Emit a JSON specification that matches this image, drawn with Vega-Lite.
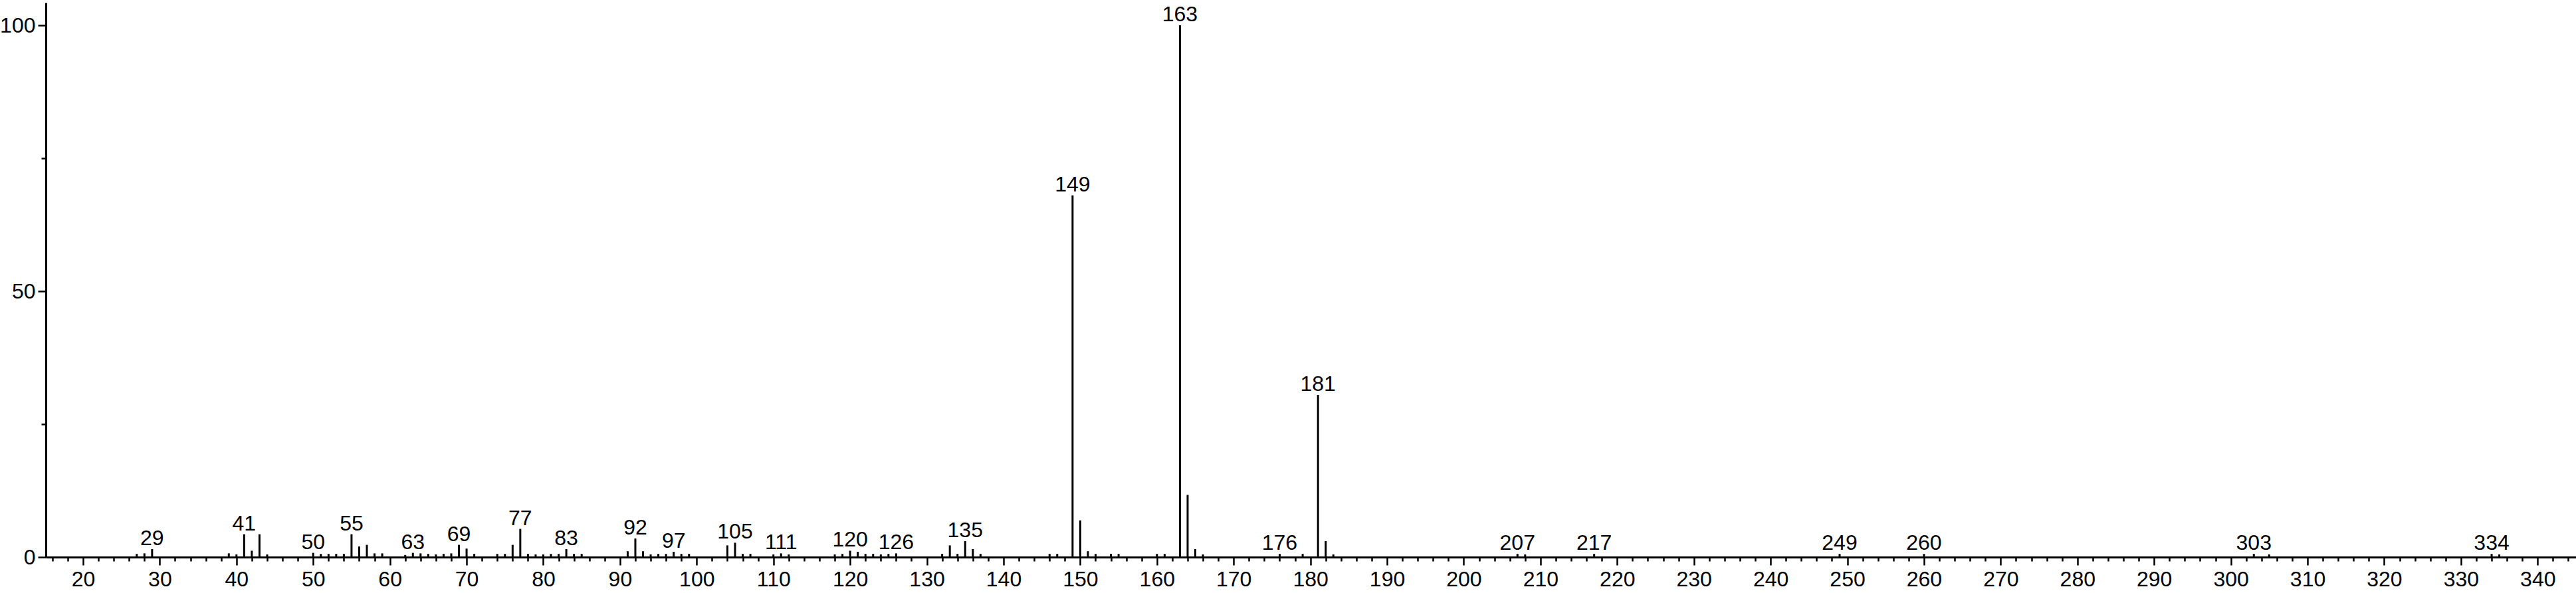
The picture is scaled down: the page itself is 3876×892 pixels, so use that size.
{
  "$schema": "https://vega.github.io/schema/vega-lite/v6.json",
  "autosize": "none",
  "width": 3807,
  "height": 834,
  "padding": {"left": 69, "top": 4, "right": 0, "bottom": 54},
  "background": "white",
  "config": {
    "view": {"stroke": null},
    "axis": {"grid": false, "domainColor": "black", "tickColor": "black", "labelColor": "black", "labelFont": "Liberation Sans", "labelFontSize": 32, "domainWidth": 3, "tickWidth": 2.5, "title": null, "labelFlush": false, "labelOverlap": false}
  },
  "data": {"values": [
    {"mz": 27, "i": 0.6, "lab": 0}, {"mz": 28, "i": 0.7, "lab": 0}, {"mz": 29, "i": 1.5, "lab": 1},
    {"mz": 39, "i": 0.7, "lab": 0}, {"mz": 40, "i": 0.5, "lab": 0}, {"mz": 41, "i": 4.3, "lab": 1},
    {"mz": 42, "i": 1.2, "lab": 0}, {"mz": 43, "i": 4.3, "lab": 0}, {"mz": 44, "i": 0.5, "lab": 0},
    {"mz": 50, "i": 0.8, "lab": 1}, {"mz": 51, "i": 0.6, "lab": 0}, {"mz": 52, "i": 0.6, "lab": 0},
    {"mz": 53, "i": 0.6, "lab": 0}, {"mz": 54, "i": 0.6, "lab": 0}, {"mz": 55, "i": 4.3, "lab": 1},
    {"mz": 56, "i": 2.0, "lab": 0}, {"mz": 57, "i": 2.3, "lab": 0}, {"mz": 58, "i": 0.7, "lab": 0},
    {"mz": 59, "i": 0.7, "lab": 0}, {"mz": 62, "i": 0.4, "lab": 0}, {"mz": 63, "i": 0.8, "lab": 1},
    {"mz": 64, "i": 0.7, "lab": 0}, {"mz": 65, "i": 0.6, "lab": 0}, {"mz": 66, "i": 0.5, "lab": 0},
    {"mz": 67, "i": 0.6, "lab": 0}, {"mz": 68, "i": 0.7, "lab": 0}, {"mz": 69, "i": 2.3, "lab": 1},
    {"mz": 70, "i": 1.6, "lab": 0}, {"mz": 71, "i": 0.6, "lab": 0}, {"mz": 74, "i": 0.6, "lab": 0},
    {"mz": 75, "i": 0.6, "lab": 0}, {"mz": 76, "i": 2.3, "lab": 0}, {"mz": 77, "i": 5.3, "lab": 1},
    {"mz": 78, "i": 0.6, "lab": 0}, {"mz": 79, "i": 0.5, "lab": 0}, {"mz": 80, "i": 0.5, "lab": 0},
    {"mz": 81, "i": 0.6, "lab": 0}, {"mz": 82, "i": 0.6, "lab": 0}, {"mz": 83, "i": 1.5, "lab": 1},
    {"mz": 84, "i": 0.6, "lab": 0}, {"mz": 85, "i": 0.6, "lab": 0}, {"mz": 91, "i": 1.1, "lab": 0},
    {"mz": 92, "i": 3.5, "lab": 1}, {"mz": 93, "i": 1.1, "lab": 0}, {"mz": 94, "i": 0.5, "lab": 0},
    {"mz": 95, "i": 0.6, "lab": 0}, {"mz": 96, "i": 0.6, "lab": 0}, {"mz": 97, "i": 1.0, "lab": 1},
    {"mz": 98, "i": 0.6, "lab": 0}, {"mz": 99, "i": 0.6, "lab": 0}, {"mz": 104, "i": 2.2, "lab": 0},
    {"mz": 105, "i": 2.7, "lab": 1}, {"mz": 106, "i": 0.6, "lab": 0}, {"mz": 107, "i": 0.6, "lab": 0},
    {"mz": 110, "i": 0.5, "lab": 0}, {"mz": 111, "i": 0.7, "lab": 1}, {"mz": 112, "i": 0.5, "lab": 0},
    {"mz": 118, "i": 0.5, "lab": 0}, {"mz": 119, "i": 0.6, "lab": 0}, {"mz": 120, "i": 1.2, "lab": 1},
    {"mz": 121, "i": 1.0, "lab": 0}, {"mz": 122, "i": 0.6, "lab": 0}, {"mz": 123, "i": 0.6, "lab": 0},
    {"mz": 124, "i": 0.5, "lab": 0}, {"mz": 125, "i": 0.6, "lab": 0}, {"mz": 126, "i": 0.7, "lab": 1},
    {"mz": 132, "i": 0.6, "lab": 0}, {"mz": 133, "i": 2.2, "lab": 0}, {"mz": 134, "i": 0.6, "lab": 0},
    {"mz": 135, "i": 3.0, "lab": 1}, {"mz": 136, "i": 1.5, "lab": 0}, {"mz": 137, "i": 0.6, "lab": 0},
    {"mz": 146, "i": 0.6, "lab": 0}, {"mz": 147, "i": 0.6, "lab": 0}, {"mz": 149, "i": 68.0, "lab": 1},
    {"mz": 150, "i": 6.9, "lab": 0}, {"mz": 151, "i": 1.1, "lab": 0}, {"mz": 152, "i": 0.6, "lab": 0},
    {"mz": 154, "i": 0.6, "lab": 0}, {"mz": 155, "i": 0.6, "lab": 0}, {"mz": 160, "i": 0.6, "lab": 0},
    {"mz": 161, "i": 0.6, "lab": 0}, {"mz": 163, "i": 100, "lab": 1}, {"mz": 164, "i": 11.7, "lab": 0},
    {"mz": 165, "i": 1.5, "lab": 0}, {"mz": 166, "i": 0.5, "lab": 0}, {"mz": 176, "i": 0.6, "lab": 1},
    {"mz": 179, "i": 0.6, "lab": 0}, {"mz": 181, "i": 30.5, "lab": 1}, {"mz": 182, "i": 3.0, "lab": 0},
    {"mz": 183, "i": 0.5, "lab": 0}, {"mz": 207, "i": 0.6, "lab": 1}, {"mz": 208, "i": 0.5, "lab": 0},
    {"mz": 217, "i": 0.6, "lab": 1}, {"mz": 249, "i": 0.6, "lab": 1}, {"mz": 260, "i": 0.6, "lab": 1},
    {"mz": 303, "i": 0.6, "lab": 1}, {"mz": 305, "i": 0.5, "lab": 0}, {"mz": 334, "i": 0.6, "lab": 1},
    {"mz": 335, "i": 0.5, "lab": 0}
  ]},
  "resolve": {"axis": {"x": "independent", "y": "independent"}},
  "layer": [
    {
      "mark": {"type": "rule", "color": "black", "strokeWidth": 3},
      "encoding": {
        "x": {"field": "mz", "type": "quantitative", "scale": {"domain": [15.15, 345], "nice": false, "zero": false},
              "axis": {"orient": "bottom", "values": [20,30,40,50,60,70,80,90,100,110,120,130,140,150,160,170,180,190,200,210,220,230,240,250,260,270,280,290,300,310,320,330,340], "tickSize": 12, "labelPadding": 6}},
        "y": {"field": "i", "type": "quantitative", "scale": {"domain": [0, 104.25], "nice": false},
              "axis": {"orient": "left", "values": [0, 50, 100], "tickSize": 12, "labelPadding": 4}},
        "y2": {"datum": 0}
      }
    },
    {
      "transform": [{"filter": "datum.lab == 1"}],
      "mark": {"type": "text", "color": "black", "font": "Liberation Sans", "fontSize": 32, "align": "center", "baseline": "alphabetic", "dy": -6},
      "encoding": {
        "x": {"field": "mz", "type": "quantitative",
              "axis": {"orient": "bottom", "values": [16,18,22,24,26,28,32,34,36,38,42,44,46,48,52,54,56,58,62,64,66,68,72,74,76,78,82,84,86,88,92,94,96,98,102,104,106,108,112,114,116,118,122,124,126,128,132,134,136,138,142,144,146,148,152,154,156,158,162,164,166,168,172,174,176,178,182,184,186,188,192,194,196,198,202,204,206,208,212,214,216,218,222,224,226,228,232,234,236,238,242,244,246,248,252,254,256,258,262,264,266,268,272,274,276,278,282,284,286,288,292,294,296,298,302,304,306,308,312,314,316,318,322,324,326,328,332,334,336,338,342,344], "tickSize": 6, "labels": false, "domain": false}},
        "y": {"field": "i", "type": "quantitative",
              "axis": {"orient": "left", "values": [25, 75], "tickSize": 7, "labels": false, "domain": false}},
        "text": {"field": "mz", "type": "quantitative", "format": "d"}
      }
    }
  ]
}
